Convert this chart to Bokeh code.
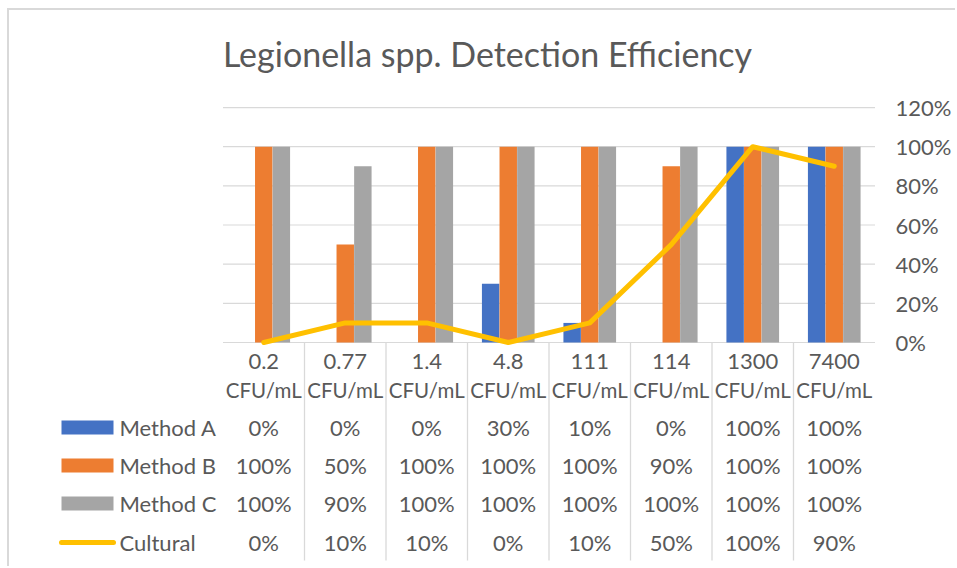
from bokeh.plotting import figure
from bokeh.models import Range1d, LinearAxis, FixedTicker, NumeralTickFormatter
from bokeh.core.properties import value
from bokeh.embed import file_html
from bokeh.resources import INLINE

# ---------------- data ----------------
categories = ["0.2 CFU/mL", "0.77 CFU/mL", "1.4 CFU/mL", "4.8 CFU/mL",
              "111 CFU/mL", "114 CFU/mL", "1300 CFU/mL", "7400 CFU/mL"]
method_a = [0, 0, 0, 30, 10, 0, 100, 100]
method_b = [100, 50, 100, 100, 100, 90, 100, 100]
method_c = [100, 90, 100, 100, 100, 100, 100, 100]
cultural = [0, 10, 10, 0, 10, 50, 100, 90]
series_names = ["Method A", "Method B", "Method C", "Cultural"]
y_ticks = [0, 20, 40, 60, 80, 100, 120]
title_text = "Legionella spp. Detection Efficiency"

# ---------------- style ----------------
FONT = "Lato"
TXT = "#595959"
GRID = "#D9D9D9"
BAR_COLORS = ["#4472C4", "#ED7D31", "#A5A5A5"]
LINE_COLOR = "#FFC000"

# the chart box starts at page (7, 8) with a 2px border on top and left
OX, OY = 9, 10
W, H = 957 - OX, 568 - OY
FRAME_RIGHT = 875
AXIS_W = 957 - FRAME_RIGHT
PX_CAT = 81.5            # pixels per category
CAT0_PAGE = 222.5        # page x of the first category's left edge
PX_UNIT = 195.8          # pixels per 100 %
ZERO_PAGE = 342.0        # page y of 0 %

def xpx(page_x):
    return (page_x - CAT0_PAGE) / PX_CAT

def ypx(page_y):
    return (ZERO_PAGE - page_y) / PX_UNIT

x_start = xpx(OX)
x_end = xpx(FRAME_RIGHT)
y_end = ypx(OY)
y_start = ypx(568)

n = len(categories)
centers = [i + 0.5 for i in range(n)]

p = figure(width=W, height=H, x_range=Range1d(x_start, x_end), y_range=Range1d(y_start, y_end),
           output_backend="svg", toolbar_location=None, min_border=0, min_border_right=AXIS_W,
           x_axis_type=None, y_axis_type=None)
p.outline_line_color = None
p.background_fill_color = "white"
p.border_fill_color = "white"
p.styles = {"margin-top": "8px", "margin-left": "7px",
            "border-top": f"2px solid {GRID}", "border-left": f"2px solid {GRID}"}

# gridlines (incl. category axis line at 0)
tick_vals = [t / 100 for t in y_ticks]
p.segment(x0=[0] * len(tick_vals), x1=[n] * len(tick_vals), y0=tick_vals, y1=tick_vals,
          line_color=GRID, line_width=1.2)

# table vertical separators
table_bottom = ypx(560)
p.segment(x0=list(range(1, n)), x1=list(range(1, n)), y0=[0] * (n - 1), y1=[table_bottom] * (n - 1),
          line_color=GRID, line_width=1.3)

# bars
bar_w = 0.214
offsets = [-0.216, 0.0, 0.216]
for vals, col, off in zip([method_a, method_b, method_c], BAR_COLORS, offsets):
    p.vbar(x=[c + off for c in centers], top=[v / 100 for v in vals], bottom=0, width=bar_w,
           fill_color=col, line_color=None)

# cultural line
p.line(x=centers, y=[v / 100 for v in cultural], line_color=LINE_COLOR, line_width=5,
       line_join="round", line_cap="round")

# right axis
ax = LinearAxis(ticker=FixedTicker(ticks=tick_vals), formatter=NumeralTickFormatter(format="0%"))
ax.axis_line_color = None
ax.major_tick_line_color = None
ax.minor_tick_line_color = None
ax.major_tick_out = 0
ax.major_tick_in = 0
ax.major_label_standoff = 20
ax.major_label_text_font = FONT
ax.major_label_text_font_size = "22px"
ax.major_label_text_color = TXT
p.add_layout(ax, "right")

txt_kw = dict(text_font=value(FONT), text_font_size="22px", text_color=TXT,
              text_align="center", text_baseline="middle")

# category labels (two lines)
line1 = [c.split(" ")[0] for c in categories]
line2 = [c.split(" ", 1)[1] for c in categories]
p.text(x=centers, y=[ypx(361)] * n, text=line1, **txt_kw)
p.text(x=centers, y=[ypx(389)] * n, text=line2, **dict(txt_kw, text_font_size="20.5px"))

# table rows
row_y = [ypx(427), ypx(465), ypx(503), ypx(542)]
for vals, ry in zip([method_a, method_b, method_c, cultural], row_y):
    p.text(x=centers, y=[ry] * n, text=[f"{v}%" for v in vals], **txt_kw)

# legend keys
key_x0, key_x1 = xpx(61), xpx(113)
for col, ry in zip(BAR_COLORS, row_y[:3]):
    p.quad(left=key_x0, right=key_x1, top=ry + 7 / PX_UNIT, bottom=ry - 7 / PX_UNIT,
           fill_color=col, line_color=None)
p.line(x=[xpx(61), xpx(113)], y=[row_y[3], row_y[3]], line_color=LINE_COLOR, line_width=5,
       line_cap="round")
p.text(x=[xpx(119)] * 4, y=row_y, text=series_names, text_font=value(FONT), text_font_size="22px",
       text_color=TXT, text_align="left", text_baseline="middle")

# title
p.text(x=[xpx(487)], y=[ypx(53)], text=[title_text], text_font=value(FONT), text_font_size="34px",
       text_color=TXT, text_align="center", text_baseline="middle")

open("out.html", "w").write(file_html(p, INLINE))
